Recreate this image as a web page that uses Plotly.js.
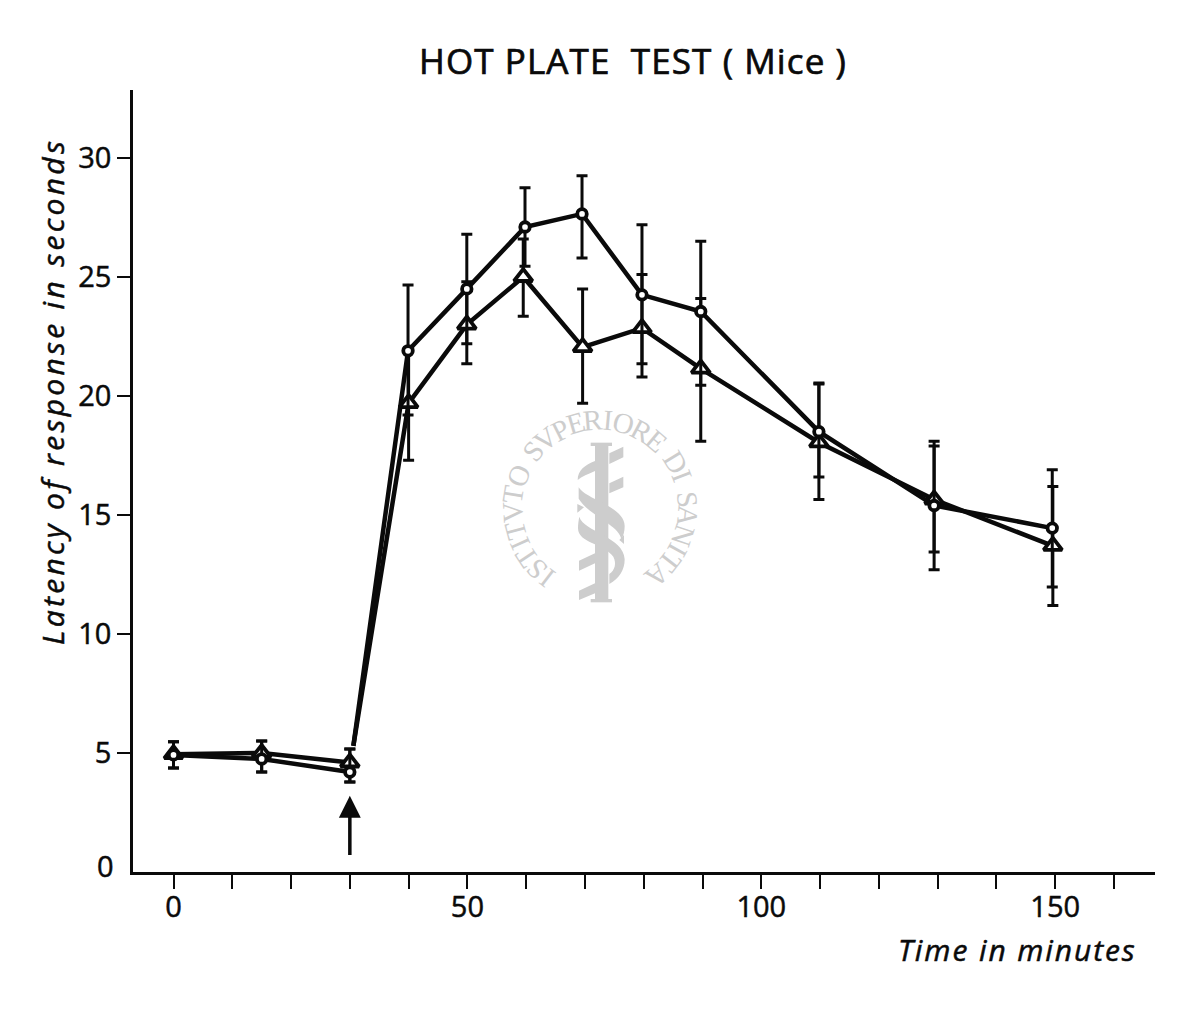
<!DOCTYPE html>
<html>
<head>
<meta charset="utf-8">
<script src="https://cdn.plot.ly/plotly-3.0.1.min.js"></script>
<style>
html,body{margin:0;padding:0;background:#fff}
#chart{width:1200px;height:1013px}
text.gtitle{letter-spacing:1.1px;stroke:#0a0a0a;stroke-width:.7px}
text[data-unformatted*="Latency"]{letter-spacing:3.3px;stroke:#0a0a0a;stroke-width:.5px}
text[data-unformatted*="Time in"]{letter-spacing:1.9px;stroke:#0a0a0a;stroke-width:.5px}
.xtick text,.ytick text,text[data-unformatted="0"]{stroke:#0a0a0a;stroke-width:.5px}
</style>
</head>
<body>
<div id="chart"></div>
<script>
// --- data ---
const circleTimes   = [0, 15, 30, 39.9, 49.9, 59.8, 69.5, 79.7, 89.7, 109.8, 129.4, 149.5];
const triangleTimes = [0, 15, 30, 40, 49.9, 59.5, 69.6, 79.7, 89.7, 109.8, 129.4, 149.6];

const circleValues = [4.92, 4.75, 4.2, 21.9, 24.5, 27.1, 27.65, 24.25, 23.55, 18.5, 15.4, 14.45];
const circleUpper  = [5.47, 5.5, 5.17, 24.66, 26.8, 28.75, 29.25, 27.2, 26.5, 20.55, 17.9, 16.9];
const circleLower  = [4.37, 4.2, 3.78, 19.2, 22.2, 25.45, 25.8, 21.35, 20.45, 16.6, 12.7, 11.97];

const triangleValues = [4.95, 5.0, 4.6, 19.7, 23.0, 25.0, 22.05, 22.85, 21.15, 18.05, 15.65, 13.7];
const triangleUpper  = [5.47, 5.5, 5.17, 22.0, 24.8, 26.6, 24.5, 25.1, 24.1, 20.5, 18.1, 16.2];
const triangleLower  = [4.37, 4.2, 3.78, 17.3, 21.35, 23.35, 19.7, 20.8, 18.1, 15.65, 13.45, 11.2];

// the rising stroke after the 30-minute point starts just above that point's error bar
const gapStartX = 30.6;
const gapStartY = 5.3;

const xTickVals = [0, 10, 20, 30, 40, 50, 60, 70, 80, 90, 100, 110, 120, 130, 140, 150, 160];
const xTickText = ['0', '', '', '', '', '50', '', '', '', '', '100', '', '', '', '', '150', ''];
const yTickVals = [5, 10, 15, 20, 25, 30];
const yTickText = ['5', '10', '15', '20', '25', '30'];
const yZeroLabel = '0';

const chartTitle = 'HOT PLATE  TEST ( Mice )';
const yLabel = 'Latency of response in seconds';
const xLabel = 'Time in minutes';
const sealText = 'ISTITVTO SVPERIORE DI SANITA';

// --- layout helpers ---
const W = 1200, H = 1013;
const M = {l: 133, r: 45, t: 90, b: 141};
const px = x => (x - M.l) / (W - M.l - M.r);
const py = y => (H - M.b - y) / (H - M.t - M.b);
const FONT = '"Open Sans", sans-serif';
const INK = '#0a0a0a';

function brokenLine(times, values) {
  const xs = [], ys = [];
  times.forEach((t, i) => {
    if (i === 3) { xs.push(null, gapStartX); ys.push(null, gapStartY); }
    xs.push(t); ys.push(values[i]);
  });
  return {xs, ys};
}

function series(name, times, values, upper, lower, symbol, size) {
  const b = brokenLine(times, values);
  return [
    {type: 'scatter', mode: 'lines', x: b.xs, y: b.ys, line: {color: INK, width: 4.5},
     hoverinfo: 'skip', showlegend: false, name: name + ' line', connectgaps: false},
    {type: 'scatter', mode: 'markers', x: times, y: values, name: name, showlegend: false,
     marker: {symbol: symbol, size: size, color: '#fff', line: {color: INK, width: 3.8}},
     error_y: {type: 'data', symmetric: false,
       array: upper.map((u, i) => u - values[i]),
       arrayminus: lower.map((l, i) => values[i] - l),
       color: INK, thickness: 3, width: 5.5}}
  ];
}

// --- seal watermark (decoration behind the chart) ---
const sealColor = '#cdcdcd';
const sealCx = 600, sealCy = 508, sealR = 88;
const zx = v => px(480 + v / 3), zy = v => py(400 + v / 3);
function poly(pts) {
  return 'M' + pts.map(p => zx(p[0]) + ',' + zy(p[1])).join(' L') + ' Z';
}
function curve(d) { // d: list of [cmd, x, y, ...] in zoomed crop coordinates
  return d.map(seg => seg[0] + seg.slice(1).map((v, i) => i % 2 ? zy(v) : zx(v)).join(',')).join(' ');
}
const sealPaths = [
  poly([[345,130],[385,130],[385,605],[345,605]]),
  poly([[332,128],[396,128],[396,138],[332,138]]),
  poly([[332,597],[396,597],[396,607],[332,607]]),
  poly([[388,160],[430,140],[430,172],[388,192]]),
  poly([[388,250],[430,230],[430,262],[388,280]]),
  poly([[297,482],[345,460],[345,490],[297,512]]),
  poly([[297,572],[345,550],[345,580],[297,600]]),
  poly([[292,312],[292,338],[312,322]]),
  poly([[432,405],[432,432],[418,420]]),
  curve([['M',345,183],['C',315,195,293,210,293,240],['C',305,230,325,222,345,213],['Z']]),
  curve([['M',296,262],['C',320,300,434,320,434,378],['C',434,395,430,408,424,418],['C',418,375,330,350,296,296],['Z']]),
  curve([['M',298,350],['C',310,395,432,410,434,478],['C',434,510,418,535,388,552],['L',388,522],['C',405,510,410,490,400,470],['C',370,430,295,430,294,385],['C',294,372,296,360,298,350],['Z']])
];
const sealShapes = sealPaths.map(p => ({
  type: 'path', xref: 'paper', yref: 'paper', path: p, fillcolor: sealColor, line: {width: 0}, layer: 'below'
}));
const charWidth = {I: 9, ' ': 9, A: 16, O: 18, S: 13, T: 15, V: 16, P: 14, E: 14, R: 16, D: 17, N: 18};
const totalW = [...sealText].reduce((s, c) => s + charWidth[c], 0);
const startDeg = -146, spanDeg = 292;
let walked = 0;
const sealAnnotations = [...sealText].map(c => {
  const mid = walked + charWidth[c] / 2;
  walked += charWidth[c];
  const deg = startDeg + spanDeg * mid / totalW;
  const r = deg * Math.PI / 180;
  const x = sealCx + sealR * Math.sin(r), y = sealCy - sealR * Math.cos(r);
  return {xref: 'paper', yref: 'paper', x: px(x), y: py(y), xanchor: 'center', yanchor: 'middle',
    text: c === ' ' ? '' : c, showarrow: false, textangle: deg,
    font: {family: '"Liberation Serif", serif', size: 29, color: sealColor}};
}).filter(a => a.text);

const annotations = sealAnnotations.concat([
  {xref: 'paper', yref: 'paper', x: px(1017), y: py(949), xanchor: 'center', yanchor: 'middle', showarrow: false,
   text: '<i>' + xLabel + '</i>', font: {family: FONT, size: 30, color: INK}},
  {xref: 'paper', yref: 'paper', x: px(52), y: py(392), xanchor: 'center', yanchor: 'middle', showarrow: false, textangle: -90,
   text: '<i>' + yLabel + '</i>', font: {family: FONT, size: 30, color: INK}},
  {xref: 'paper', yref: 'paper', x: px(105), y: py(865), xanchor: 'center', yanchor: 'middle', showarrow: false,
   text: yZeroLabel, font: {family: FONT, size: 29, color: INK}},
  {xref: 'x', yref: 'y', x: 30, y: 3.2, axref: 'x', ayref: 'y', ax: 30, ay: 0.65, text: '', showarrow: true,
   arrowhead: 2, arrowsize: 1.25, arrowwidth: 3.5, arrowcolor: INK}
]);

const traces = [
  ...series('Triangle series', triangleTimes, triangleValues, triangleUpper, triangleLower, 'triangle-up', 16),
  ...series('Circle series', circleTimes, circleValues, circleUpper, circleLower, 'circle', 9.5)
];

const layout = {
  width: W, height: H,
  margin: M,
  paper_bgcolor: '#fff', plot_bgcolor: 'rgba(0,0,0,0)',
  showlegend: false,
  title: {text: chartTitle, x: 633 / W, xanchor: 'center', y: 1 - 62 / H, yanchor: 'middle',
    font: {family: FONT, size: 35, color: INK}},
  xaxis: {
    range: [(M.l - 173.5) / 5.878, (W - M.r - 173.5) / 5.878], showgrid: false, zeroline: false,
    tickmode: 'array', tickvals: xTickVals, ticktext: xTickText,
    ticks: 'outside', ticklen: 14, tickwidth: 2.4, tickcolor: INK,
    showline: true, linecolor: INK, linewidth: 2.6, ticklabelstandoff: -7,
    tickfont: {family: FONT, size: 29, color: INK}
  },
  yaxis: {
    range: [0, (H - M.b - M.t) / 23.8], showgrid: false, zeroline: false,
    tickmode: 'array', tickvals: yTickVals, ticktext: yTickText,
    ticks: 'outside', ticklen: 13, tickwidth: 2.2, tickcolor: INK,
    showline: true, linecolor: INK, linewidth: 2.6,
    tickfont: {family: FONT, size: 29, color: INK}
  },
  shapes: sealShapes,
  annotations: annotations
};

Plotly.newPlot('chart', traces, layout, {displayModeBar: false, responsive: false});
</script>
</body>
</html>
